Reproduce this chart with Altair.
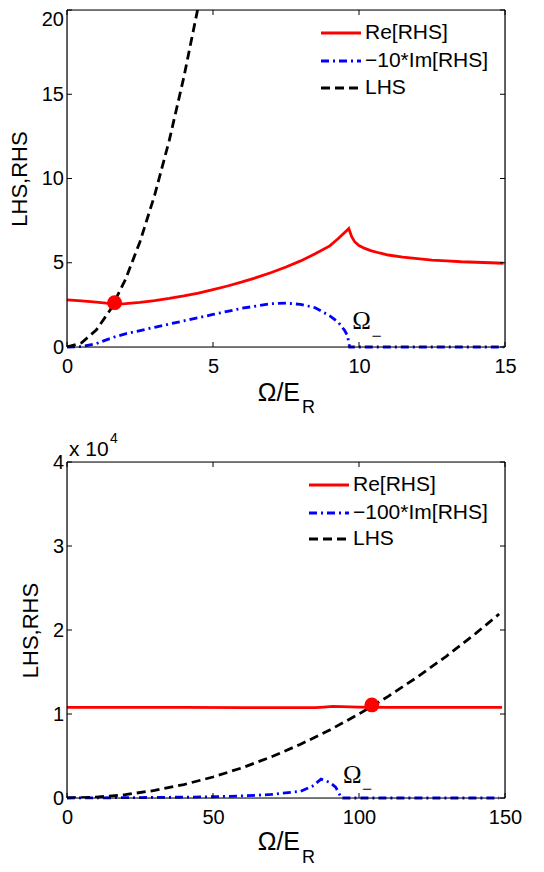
import altair as alt
import pandas as pd

# ---------------- data ----------------
# top panel
top_re_x = [0, 0.5, 1.0, 1.5, 1.75, 2.0, 2.5, 3.0, 3.5, 4.0, 4.5, 5.0, 5.5, 6.0, 6.5, 7.0, 7.5, 8.0, 8.5, 9.0, 9.3, 9.6, 9.65, 9.75, 9.85, 10.0, 10.2, 10.4, 10.7, 11.0, 11.5, 12.0, 12.5, 13.0, 13.5, 14.0, 14.5, 14.95]
top_re_y = [2.80, 2.74, 2.66, 2.58, 2.55, 2.57, 2.65, 2.75, 2.88, 3.03, 3.20, 3.40, 3.62, 3.86, 4.13, 4.42, 4.75, 5.11, 5.53, 6.00, 6.45, 6.95, 7.03, 6.55, 6.25, 6.02, 5.85, 5.72, 5.58, 5.46, 5.33, 5.24, 5.16, 5.11, 5.06, 5.03, 5.00, 4.97]
top_im_x = [0, 0.5, 1.0, 1.6, 2.0, 3.0, 4.0, 5.0, 6.0, 7.0, 7.5, 8.0, 8.5, 9.0, 9.3, 9.5, 9.6, 9.68, 10.0, 14.95]
top_im_y = [0, 0.02, 0.20, 0.58, 0.78, 1.17, 1.55, 1.93, 2.30, 2.57, 2.60, 2.53, 2.33, 1.85, 1.45, 1.00, 0.70, 0, 0, 0]
top_lhs_x = [0, 0.5, 1.0, 1.5, 2.0, 2.5, 3.0, 3.5, 4.0, 4.5, 4.6]
top_lhs_y = [0, 0.25, 1.0, 2.25, 4.0, 6.25, 9.0, 12.25, 16.0, 20.25, 21.2]
top_dot = (1.63, 2.63)
top_xticks = [0, 5, 10, 15]
top_yticks = [0, 5, 10, 15, 20]
top_legend = ["Re[RHS]", "\u221210*Im[RHS]", "LHS"]

# bottom panel
bot_re_x = [0, 20, 40, 60, 80, 85, 88, 91, 94, 97, 100, 110, 130, 149]
bot_re_y = [10800, 10790, 10780, 10770, 10760, 10760, 10830, 10900, 10880, 10840, 10820, 10800, 10800, 10800]
bot_im_x = [0, 20, 40, 50, 60, 70, 80, 84, 87, 90, 92, 94, 100, 148]
bot_im_y = [0, 40, 100, 150, 250, 420, 800, 1400, 2250, 1850, 1300, 0, 0, 0]
bot_lhs_x = [0, 10, 20, 30, 40, 50, 60, 70, 80, 90, 100, 110, 120, 130, 140, 148]
bot_lhs_y = [0, 100, 400, 900, 1600, 2500, 3600, 4900, 6400, 8100, 10000, 12100, 14400, 16900, 19600, 21900]
bot_dot = (104.4, 11080)
bot_xticks = [0, 50, 100, 150]
bot_yticks = [0, 10000, 20000, 30000, 40000]
bot_legend = ["Re[RHS]", "\u2212100*Im[RHS]", "LHS"]

xtitle_main = "\u03a9/E"
xtitle_sub = "R"
ylabel = "LHS,RHS"
omega_main = "\u03a9"
omega_sub = "\u2212"

W = 438
SANS = "Liberation Sans"
SERIF = "Liberation Serif"
RED = "#ff0000"
BLUE = "#0000ff"
LW = 2.8


def panel(H, xmax, ymax, re, im, lhs, dot, xticks, yticks, legend, leg, titlepos,
          omega, ytitle_x, yfmt=None, top_offset=False, exp_label=False):
    xs = alt.Scale(domain=[0, xmax], nice=False, zero=False)
    ys = alt.Scale(domain=[0, ymax], nice=False, zero=False)
    xaxis = alt.Axis(values=xticks, title="", ticks=False, domain=False, grid=False,
                     labelFontSize=20, labelFont=SANS, labelColor="black", labelPadding=9.5,
                     labelFlush=False, labelOverlap=False)
    ykw = dict(values=yticks, title=ylabel, ticks=False, domain=False, grid=False,
               labelFontSize=20, labelFont=SANS, labelColor="black", labelPadding=3.5,
               labelFlush=False, labelOverlap=False,
               titleFontSize=22, titleFont=SANS, titleFontWeight="normal", titleColor="black",
               titleAngle=270, titleX=ytitle_x, titleY=H / 2, titleBaseline="alphabetic",
               titleAlign="center")
    if yfmt:
        ykw["labelExpr"] = yfmt
    if top_offset:
        ykw["labelOffset"] = {"condition": {"test": f"datum.value == {ymax}", "value": 9}, "value": 0}
    yaxis = alt.Axis(**ykw)

    def X(f="x"):
        return alt.X(f"{f}:Q", scale=xs, axis=xaxis)

    def Y(f="y"):
        return alt.Y(f"{f}:Q", scale=ys, axis=yaxis)

    def df(xv, yv):
        return pd.DataFrame({"x": xv, "y": yv})

    re_l = alt.Chart(df(*re)).mark_line(color=RED, strokeWidth=LW).encode(x=X(), y=Y())
    im_l = alt.Chart(df(*im)).mark_line(color=BLUE, strokeWidth=LW, strokeDash=[8, 4, 2, 4]).encode(x=X(), y=Y())
    lhs_l = alt.Chart(df(*lhs)).mark_line(color="black", strokeWidth=LW, strokeDash=[9, 5], clip=True).encode(x=X(), y=Y())
    dot_m = alt.Chart(df([dot[0]], [dot[1]])).mark_point(filled=True, color=RED, opacity=1, size=220).encode(x=X(), y=Y())

    # frame box
    fr = pd.DataFrame({"s": ["frame"]})
    box = [
        alt.Chart(fr).mark_rule(color="black", strokeWidth=1.2).encode(x=alt.value(0), x2=alt.value(W), y=alt.value(0)),
        alt.Chart(fr).mark_rule(color="black", strokeWidth=1.2).encode(x=alt.value(0), x2=alt.value(W), y=alt.value(H)),
        alt.Chart(fr).mark_rule(color="black", strokeWidth=1.2).encode(y=alt.value(0), y2=alt.value(H), x=alt.value(0)),
        alt.Chart(fr).mark_rule(color="black", strokeWidth=1.2).encode(y=alt.value(0), y2=alt.value(H), x=alt.value(W)),
    ]

    # inward ticks on all four sides
    xt = pd.DataFrame({"x": xticks})
    yt = pd.DataFrame({"y": yticks})
    tk = []
    for (y0, y1) in [(H, H - 5), (0, 5)]:
        tk.append(alt.Chart(xt).mark_rule(color="black", strokeWidth=1).encode(
            x=X(), y=alt.value(y0), y2=alt.value(y1)))
    for (x0, x1) in [(0, 5), (W, W - 5)]:
        tk.append(alt.Chart(yt).mark_rule(color="black", strokeWidth=1).encode(
            y=Y(), x=alt.value(x0), x2=alt.value(x1)))

    # Omega_- annotation
    (ox, oy, sx, sy) = omega
    om = alt.Chart(pd.DataFrame({"x": [ox], "y": [oy], "s": [omega_main]})).mark_text(
        font=SERIF, fontSize=25, align="center", baseline="alphabetic", color="black").encode(
        x=X(), y=Y(), text="s:N")
    osub = alt.Chart(pd.DataFrame({"x": [sx], "y": [sy], "s": [omega_sub]})).mark_text(
        font=SERIF, fontSize=18, align="center", baseline="middle", color="black").encode(
        x=X(), y=Y(), text="s:N")

    # legend (drawn by hand, no box)
    lx0, lx1, tx, rows = leg
    styles = [dict(color=RED, strokeWidth=LW), dict(color=BLUE, strokeWidth=LW, strokeDash=[8, 4, 2, 4]),
              dict(color="black", strokeWidth=LW, strokeDash=[9, 5])]
    lg = []
    for lab, st, ry in zip(legend, styles, rows):
        lg.append(alt.Chart(pd.DataFrame({"s": [lab]})).mark_rule(**st).encode(
            x=alt.value(lx0), x2=alt.value(lx1), y=alt.value(ry)))
        lg.append(alt.Chart(pd.DataFrame({"s": [lab]})).mark_text(
            font=SANS, fontSize=21, align="left", baseline="middle", color="black").encode(
            x=alt.value(tx), y=alt.value(ry), text="s:N"))

    # x-axis title with subscript
    mx, my, rx, ry2 = titlepos
    tt = [
        alt.Chart(pd.DataFrame({"s": [xtitle_main]})).mark_text(
            font=SANS, fontSize=25, align="right", baseline="alphabetic", color="black").encode(
            x=alt.value(mx), y=alt.value(my), text="s:N"),
        alt.Chart(pd.DataFrame({"s": [xtitle_sub]})).mark_text(
            font=SANS, fontSize=18, align="left", baseline="alphabetic", color="black").encode(
            x=alt.value(rx), y=alt.value(ry2), text="s:N"),
    ]
    extra = []
    if exp_label:
        extra = [
            alt.Chart(pd.DataFrame({"s": ["x 10"]})).mark_text(
                font=SANS, fontSize=21, align="left", baseline="alphabetic", color="black").encode(
                x=alt.value(2), y=alt.value(-6), text="s:N"),
            alt.Chart(pd.DataFrame({"s": ["4"]})).mark_text(
                font=SANS, fontSize=14, align="left", baseline="alphabetic", color="black").encode(
                x=alt.value(43), y=alt.value(-19), text="s:N"),
        ]

    return alt.layer(re_l, im_l, lhs_l, dot_m, *box, *tk, om, osub, *lg, *tt, *extra).properties(
        width=W, height=H)


top = panel(337, 15, 20,
            (top_re_x, top_re_y), (top_im_x, top_im_y), (top_lhs_x, top_lhs_y), top_dot,
            top_xticks, top_yticks, top_legend,
            (254, 294, 298, [23, 51, 78]),
            (233, 337 + 54, 235, 337 + 66),
            (10.09, 1.05, 10.6, 0.62),
            ytitle_x=-41, top_offset=True)

bottom = panel(336, 150, 40000,
               (bot_re_x, bot_re_y), (bot_im_x, bot_im_y), (bot_lhs_x, bot_lhs_y), bot_dot,
               bot_xticks, bot_yticks, bot_legend,
               (242, 282, 286, [23, 51, 77]),
               (233, 336 + 52, 235, 336 + 65),
               (97.7, 1800, 102.8, 1000),
               ytitle_x=-30, yfmt="format(datum.value / 10000, 'd')", exp_label=True)

chart = alt.vconcat(top, bottom, spacing=115, bounds="flush").properties(
    padding={"left": -1, "top": 0, "right": 0, "bottom": 0}
).configure_view(stroke=None).configure(background="white")

chart.save("out.html", embed_options={"renderer": "svg", "actions": False})
